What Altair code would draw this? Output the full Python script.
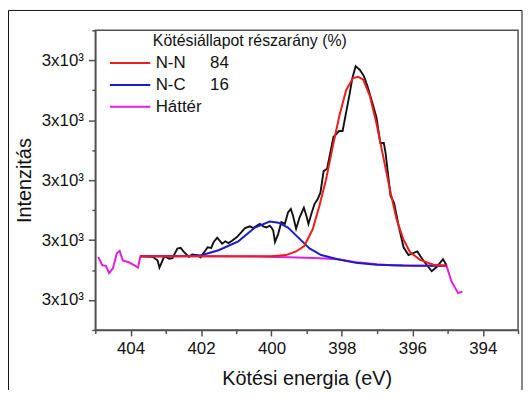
import altair as alt
import pandas as pd

# ---- measured spectrum (black) ----
energy_data = [403.70, 403.37, 403.23, 403.18, 403.04, 402.90, 402.81, 402.67, 402.58, 402.48,
               402.34, 402.25, 402.11, 402.01, 401.97, 401.87, 401.81, 401.71, 401.64, 401.54,
               401.47, 401.40, 401.31, 401.22, 401.12, 400.98, 400.84, 400.75, 400.61, 400.51,
               400.42, 400.33, 400.23, 400.14, 400.05, 400.00, 399.95, 399.90, 399.81, 399.72,
               399.62, 399.53, 399.45, 399.39, 399.30, 399.20, 399.08, 399.01, 398.95, 398.87,
               398.78, 398.69, 398.61, 398.52, 398.42, 398.24, 398.08, 397.98, 397.79, 397.70,
               397.61, 397.49, 397.38, 397.28, 397.14, 397.02, 396.91, 396.81, 396.76, 396.62,
               396.52, 396.39, 396.25, 396.11, 395.86, 395.69, 395.45, 395.31, 395.13, 395.03]
intensity_data = [2873, 2872, 2866, 2854, 2873, 2869, 2870, 2886, 2887, 2880,
                  2872, 2876, 2875, 2871, 2875, 2883, 2888, 2887, 2897, 2904,
                  2899, 2894, 2898, 2895, 2899, 2905, 2914, 2920, 2923, 2920,
                  2924, 2927, 2923, 2921, 2924, 2921, 2916, 2897, 2910, 2930,
                  2927, 2946, 2952, 2941, 2919, 2938, 2954, 2941, 2927, 2943,
                  2960, 2968, 2979, 3015, 3019, 3072, 3082, 3082, 3141, 3171,
                  3190, 3184, 3174, 3158, 3130, 3105, 3062, 3062, 3045, 2974,
                  2962, 2924, 2888, 2875, 2881, 2866, 2848, 2855, 2868, 2858]

# ---- N-N component (red) ----
nn_energy = [403.73, 401.00, 400.00, 399.59, 399.30, 399.07, 398.83, 398.64, 398.45, 398.26,
             398.07, 397.88, 397.69, 397.54, 397.40, 397.21, 397.02, 396.83, 396.64, 396.45,
             396.26, 396.07, 395.78, 395.40, 395.02]
nn_intensity = [2873, 2873, 2873, 2875, 2881, 2890, 2918, 2957, 3001, 3056,
                3108, 3150, 3170, 3172.5, 3168, 3141, 3095, 3040, 2985, 2935,
                2902, 2880, 2867, 2859, 2857]

# ---- N-C component (blue) ----
nc_energy = [403.73, 402.92, 402.35, 401.97, 401.50, 401.20, 400.94, 400.47, 400.05, 399.80,
             399.53, 399.20, 398.92, 398.59, 398.12, 397.60, 397.02, 396.26, 395.02]
nc_intensity = [2873, 2873, 2873.5, 2875, 2883, 2891, 2898, 2921, 2931, 2929,
                2921, 2902, 2886, 2875, 2868, 2862, 2859, 2857.5, 2857]

# ---- background (magenta) ----
bg_energy = [404.92, 404.80, 404.70, 404.61, 404.50, 404.39, 404.31, 404.22, 404.05, 403.89,
             403.79, 403.72, 402.00, 400.50, 399.50, 398.80, 398.10, 397.60, 397.00, 396.60,
             396.00, 395.03, 394.89, 394.70, 394.58]
bg_intensity = [2872, 2858, 2857, 2845, 2853, 2878, 2882, 2866, 2863, 2858,
                2854, 2873, 2873, 2872.5, 2871.5, 2870, 2868, 2863, 2859.5, 2858,
                2857.2, 2857, 2831, 2811.5, 2814]

legend_title = "Kötésiállapot részarány (%)"
legend_names = ["N-N", "N-C", "Háttér"]
legend_shares = ["84", "16", ""]
legend_colors = ["#ee1c1c", "#1c1cc8", "#e01ee0"]
data_color = "#111111"

x_ticks = [393, 394, 395, 396, 397, 398, 399, 400, 401, 402, 403, 404, 405]
y_ticks = [2750, 2800, 2850, 2900, 2950, 3000, 3050, 3100, 3150, 3200, 3250]
y_tick_label = "3x10³"
x_title = "Kötési energia (eV)"
y_title = "Intenzitás"

assert len(energy_data) == len(intensity_data)
assert len(nn_energy) == len(nn_intensity)
assert len(nc_energy) == len(nc_intensity)
assert len(bg_energy) == len(bg_intensity)

W, H = 426, 302
FONT = "Liberation Sans"
AX = "#505050"

xs = alt.Scale(domain=[393, 405], reverse=True, nice=False, zero=False)
ys = alt.Scale(domain=[2750, 3250], nice=False, zero=False)

x_axis = alt.Axis(
    values=x_ticks,
    labelExpr="datum.value % 2 == 0 ? datum.label : ''",
    tickSize={"condition": {"test": "datum.value % 2 == 0", "value": 6}, "value": 3.5},
    labelPadding=5,
    labelFontSize=17,
    titleFontSize=20,
    titleX=W / 2,
    titleY=49,
    titleBaseline="middle",
    titleAlign="center",
    grid=False,
)
y_axis = alt.Axis(
    values=y_ticks,
    labelExpr=f"datum.value % 100 == 0 ? '{y_tick_label}' : ''",
    tickSize={"condition": {"test": "datum.value % 100 == 0", "value": 7}, "value": 3.5},
    labelPadding=5,
    labelFontSize=17,
    titleFontSize=20,
    titleX=-71,
    titleY=H / 2,
    titleAngle=-90,
    titleAlign="center",
    titleBaseline="middle",
    grid=False,
)

x_enc = alt.X("e:Q", scale=xs, axis=x_axis, title=x_title)
y_enc = alt.Y("v:Q", scale=ys, axis=y_axis, title=y_title)


def series(e, v, color, width):
    df = pd.DataFrame({"e": e, "v": v})
    return alt.Chart(df).mark_line(color=color, strokeWidth=width).encode(x=x_enc, y=y_enc)


layers = [
    series(energy_data, intensity_data, data_color, 1.9),
    series(bg_energy, bg_intensity, legend_colors[2], 2.0),
    series(nc_energy, nc_intensity, legend_colors[1], 2.0),
    series(nn_energy, nn_intensity, legend_colors[0], 2.0),
]

# legend (drawn inside the plot, upper left)
title_df = pd.DataFrame({"t": [legend_title]})
layers.append(
    alt.Chart(title_df).mark_text(align="left", baseline="middle", fontSize=16, font=FONT, color="#111")
    .encode(x=alt.value(58), y=alt.value(11), text="t:N")
)
for i, (name, share, col) in enumerate(zip(legend_names, legend_shares, legend_colors)):
    yy = 33 + i * 22
    ldf = pd.DataFrame({"label": [name], "share": [share]})
    layers.append(
        alt.Chart(ldf).mark_rule(color=col, strokeWidth=2)
        .encode(x=alt.value(14.7), x2=alt.value(55.4), y=alt.value(yy))
    )
    layers.append(
        alt.Chart(ldf).mark_text(align="left", baseline="middle", fontSize=17, font=FONT, color="#111")
        .encode(x=alt.value(60.8), y=alt.value(yy), text="label:N")
    )
    layers.append(
        alt.Chart(ldf).mark_text(align="left", baseline="middle", fontSize=17, font=FONT, color="#111")
        .encode(x=alt.value(115.6), y=alt.value(yy), text="share:N")
    )

# outer figure frame
frame_df = pd.DataFrame({"f": [0]})
layers.append(
    alt.Chart(frame_df).mark_rect(fill=None, fillOpacity=0, stroke="#111", strokeWidth=1)
    .encode(x=alt.value(-87.5), x2=alt.value(430), y=alt.value(-20), y2=alt.value(420))
)

chart = (
    alt.layer(*layers)
    .properties(
        width=W,
        height=H,
        autosize=alt.AutoSizeParams(type="none"),
        padding={"left": 88, "top": 21, "right": 5, "bottom": 59},
        background="white",
    )
    .configure_view(stroke=AX, strokeWidth=1.5)
    .configure_axis(
        domainColor=AX,
        domainWidth=1.5,
        tickColor=AX,
        tickWidth=1.5,
        labelColor="#111",
        titleColor="#111",
        labelFont=FONT,
        titleFont=FONT,
        titleFontWeight="normal",
    )
)

chart.save("out.html", embed_options={"renderer": "svg", "actions": False})
